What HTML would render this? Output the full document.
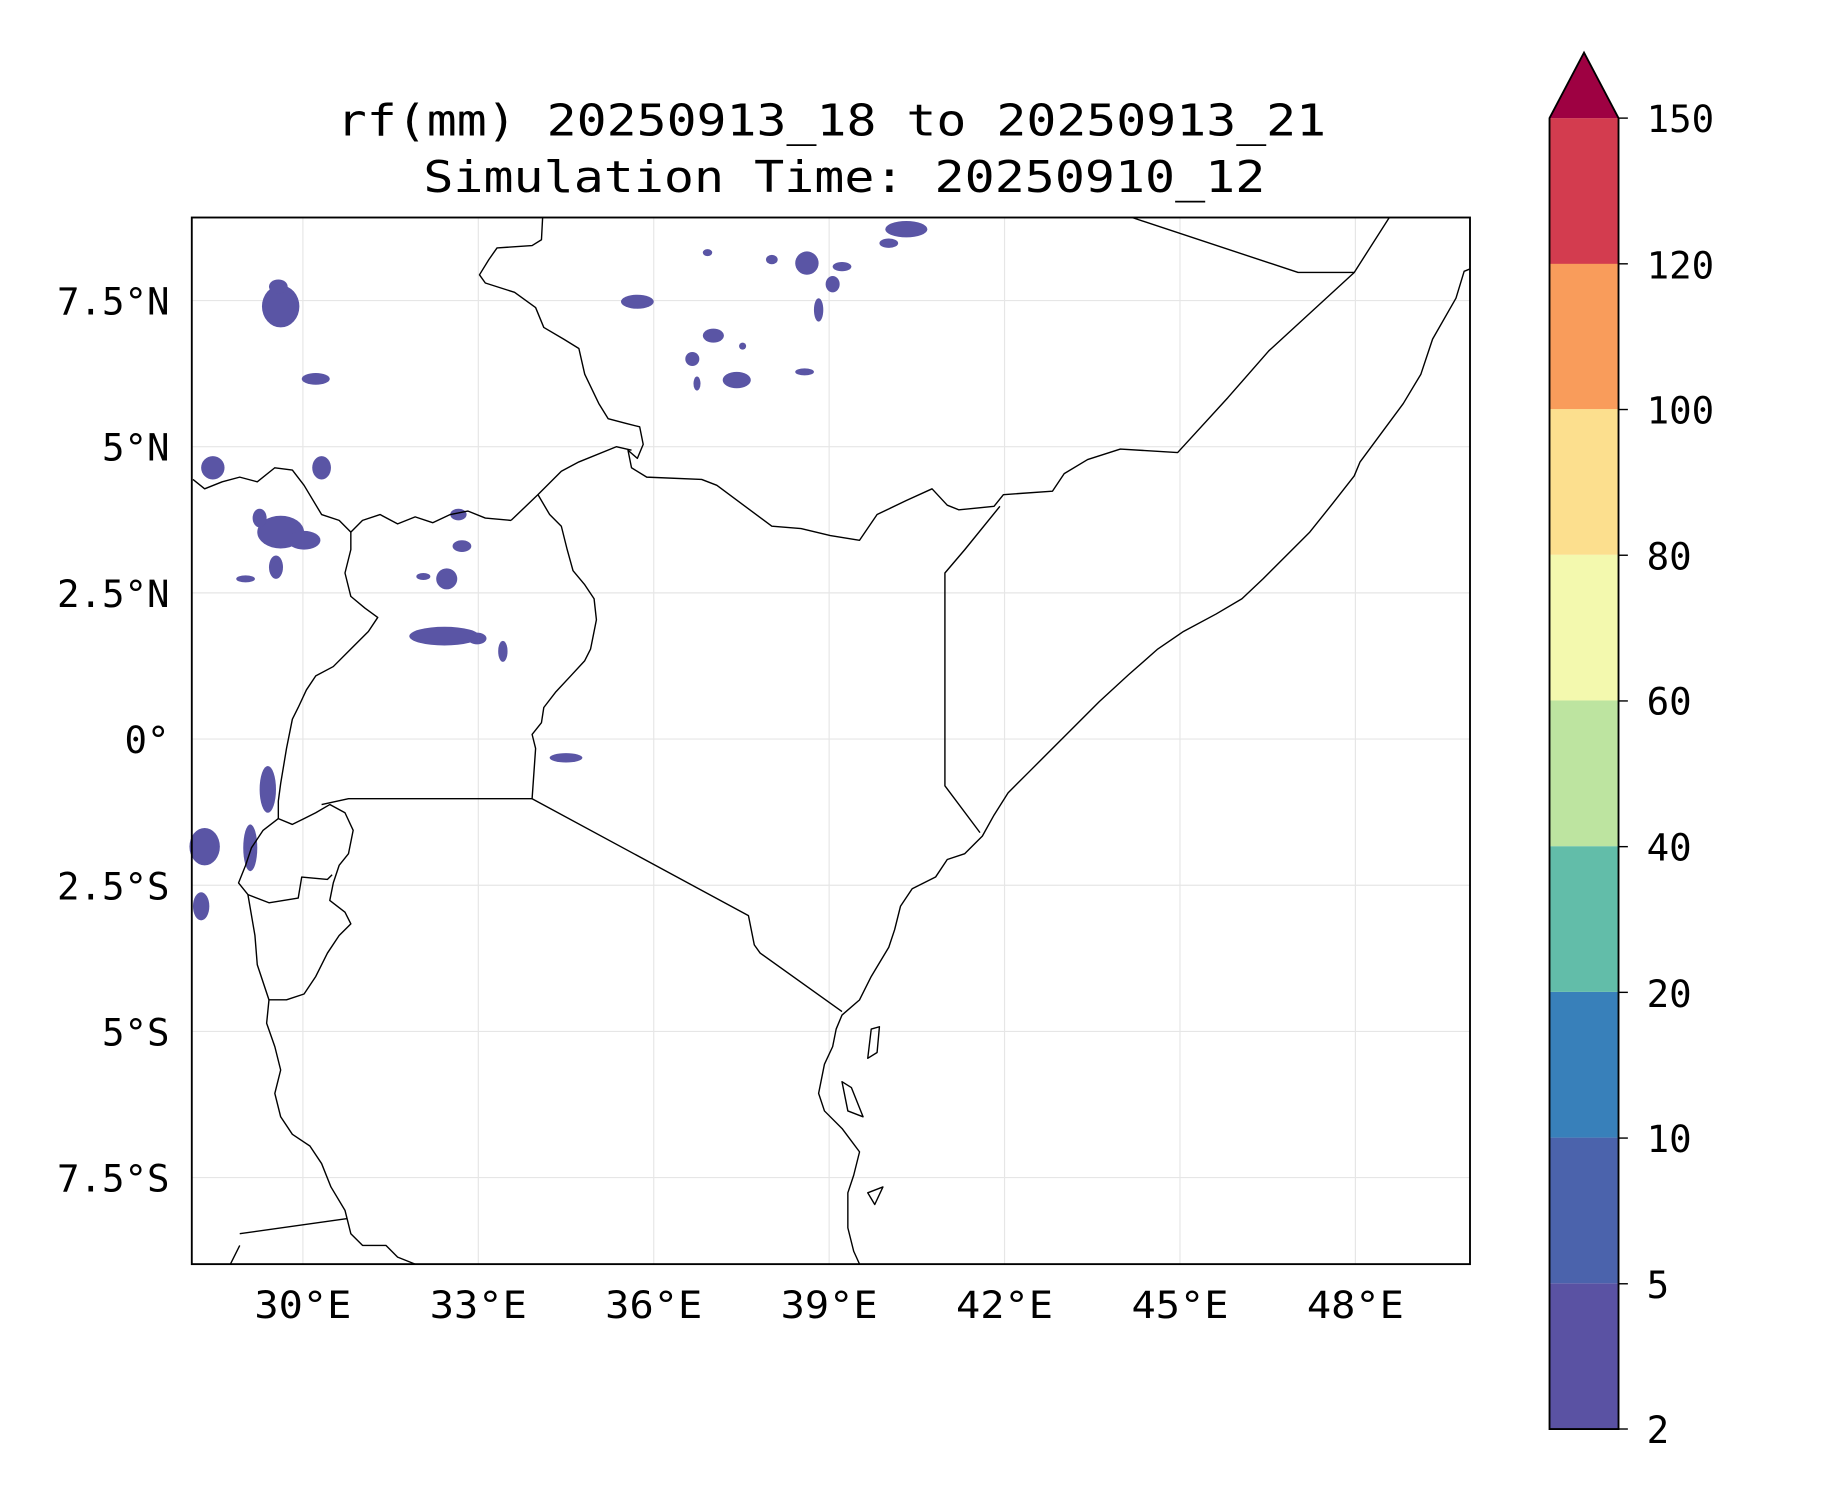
<!DOCTYPE html>
<html><head><meta charset="utf-8"><style>html,body{margin:0;padding:0;background:#fff}svg{display:block}</style></head><body>
<svg width="1833" height="1500" viewBox="0 0 1567.4 1282.7" preserveAspectRatio="none" xmlns="http://www.w3.org/2000/svg" font-family="'DejaVu Sans Mono','Liberation Mono',monospace">
<rect width="1570" height="1290" fill="#fff"/>
<text x="711" y="116" font-size="37" text-anchor="middle" textLength="846" lengthAdjust="spacingAndGlyphs">rf(mm) 20250913_18 to 20250913_21</text>
<text x="722" y="164" font-size="37" text-anchor="middle" textLength="720" lengthAdjust="spacingAndGlyphs">Simulation Time: 20250910_12</text>
<g stroke="#e6e6e6" stroke-width="1">
<line x1="259" y1="186" x2="259" y2="1081"/><line x1="409" y1="186" x2="409" y2="1081"/><line x1="559" y1="186" x2="559" y2="1081"/><line x1="709" y1="186" x2="709" y2="1081"/><line x1="859" y1="186" x2="859" y2="1081"/><line x1="1009" y1="186" x2="1009" y2="1081"/><line x1="1159" y1="186" x2="1159" y2="1081"/>
<line x1="164" y1="257" x2="1257" y2="257"/><line x1="164" y1="382" x2="1257" y2="382"/><line x1="164" y1="507" x2="1257" y2="507"/><line x1="164" y1="632" x2="1257" y2="632"/><line x1="164" y1="757" x2="1257" y2="757"/><line x1="164" y1="882" x2="1257" y2="882"/><line x1="164" y1="1007" x2="1257" y2="1007"/>
</g>
<g fill="#5a55a5">
<ellipse cx="240" cy="262" rx="16" ry="18"/><ellipse cx="238" cy="245" rx="8" ry="6"/><ellipse cx="270" cy="324" rx="12" ry="5"/><ellipse cx="275" cy="400" rx="8" ry="10"/>
<ellipse cx="182" cy="400" rx="10" ry="10"/><ellipse cx="240" cy="455" rx="20" ry="14"/><ellipse cx="260" cy="462" rx="14" ry="8"/><ellipse cx="222" cy="443" rx="6" ry="8"/><ellipse cx="236" cy="485" rx="6" ry="10"/><ellipse cx="210" cy="495" rx="8" ry="3"/>
<ellipse cx="392" cy="440" rx="7" ry="5"/><ellipse cx="395" cy="467" rx="8" ry="5"/><ellipse cx="382" cy="495" rx="9" ry="9"/><ellipse cx="362" cy="493" rx="6" ry="3"/>
<ellipse cx="380" cy="544" rx="30" ry="8"/><ellipse cx="408" cy="546" rx="8" ry="5"/><ellipse cx="430" cy="557" rx="4" ry="9"/>
<ellipse cx="484" cy="648" rx="14" ry="4"/>
<ellipse cx="229" cy="675" rx="7" ry="20"/><ellipse cx="214" cy="725" rx="6" ry="20"/><ellipse cx="175" cy="724" rx="13" ry="16"/><ellipse cx="172" cy="775" rx="7" ry="12"/>
<ellipse cx="545" cy="258" rx="14" ry="6"/><ellipse cx="610" cy="287" rx="9" ry="6"/><ellipse cx="592" cy="307" rx="6" ry="6"/><ellipse cx="630" cy="325" rx="12" ry="7"/><ellipse cx="596" cy="328" rx="3" ry="6"/>
<ellipse cx="690" cy="225" rx="10" ry="10"/><ellipse cx="712" cy="243" rx="6" ry="7"/><ellipse cx="700" cy="265" rx="4" ry="10"/><ellipse cx="720" cy="228" rx="8" ry="4"/>
<ellipse cx="775" cy="196" rx="18" ry="7"/><ellipse cx="760" cy="208" rx="8" ry="4"/><ellipse cx="660" cy="222" rx="5" ry="4"/><ellipse cx="605" cy="216" rx="4" ry="3"/>
<ellipse cx="688" cy="318" rx="8" ry="3"/><ellipse cx="635" cy="296" rx="3" ry="3"/>
</g>
<g fill="none" stroke="#000" stroke-width="1.2" stroke-linejoin="round">
<polyline points="464,186 463,205 455,210 425,212 418,222 410,235 415,242 440,250 458,263 465,280 482,290 495,298 500,320 512,345 520,358 535,362 547,365 550,380 545,392 537,385 540,400 553,408 600,410 613,415 660,450 685,452 710,458 735,462 750,440 775,428 797,418 810,432 820,436 850,433 858,423 900,420 910,405 930,393 958,384 1007,387 1050,340 1085,300 1158,233 1188,186"/>
<polyline points="968,186 1110,233 1158,233"/>
<polyline points="1257,230 1252,232 1245,255 1225,290 1215,320 1200,345 1180,372 1163,395 1158,407 1140,430 1120,455 1100,475 1080,495 1062,512 1040,525 1012,540 990,555 965,577 940,600 915,625 895,645 880,660 862,678 850,697 840,715 825,730 810,735 800,750 780,760 770,775 765,795 760,810 745,835 735,855 720,868 715,880 712,895 705,910 700,935 705,950 720,965 735,985 730,1005 725,1020 725,1050 730,1070 735,1081"/>
<polyline points="855,433 825,470 808,490 808,672 838,712"/>
<polyline points="437,445 460,423 480,403 495,395 527,382 540,385"/>
<polyline points="460,423 470,440 480,450 485,470 490,488 500,500 508,512 510,530 505,555 500,565 488,578 475,592 465,605 463,618 455,628 458,640 455,683 640,783 645,808 650,815 720,865"/>
<polyline points="437,445 415,443 400,437 385,440 370,447 355,442 340,448 325,440 310,445 300,455 290,445 275,440 260,415 250,402 235,400 220,412 205,408 190,412 175,418 165,410"/>
<polyline points="300,455 300,470 295,490 300,510 312,520 323,528 315,540 300,555 285,570 270,578 262,590 255,605 250,615 245,640 240,670 238,685 238,700"/>
<polyline points="275,688 298,683 455,683"/>
<polyline points="238,700 250,705 260,700 270,695 282,688 295,695 302,710 298,730 290,740 285,755 282,770 295,780 300,790 290,800 280,815 270,835 260,850 245,855 230,855"/>
<polyline points="238,700 225,710 215,725 210,740 204,755 212,765 230,772 255,768 258,750 280,752 284,748"/>
<polyline points="212,765 218,800 220,825 230,855 228,875 235,895 240,915 235,935 240,955 250,970 265,980 275,995 283,1015 295,1035 300,1055 310,1065 330,1065 340,1075 355,1081"/>
<polyline points="205,1055 297,1042"/>
<polyline points="205,1065 197,1081"/>
<path d="M745,880 L752,878 L750,900 L742,905 Z M720,925 L728,930 L738,955 L725,950 Z M742,1020 L755,1015 L748,1030 Z"/>
</g>
<rect x="164" y="186" width="1093" height="895" fill="none" stroke="#000" stroke-width="1.6"/>
<g font-size="32" text-anchor="middle">
<text x="259" y="1127" textLength="83" lengthAdjust="spacingAndGlyphs">30°E</text><text x="409" y="1127" textLength="83" lengthAdjust="spacingAndGlyphs">33°E</text><text x="559" y="1127" textLength="83" lengthAdjust="spacingAndGlyphs">36°E</text><text x="709" y="1127" textLength="83" lengthAdjust="spacingAndGlyphs">39°E</text><text x="859" y="1127" textLength="83" lengthAdjust="spacingAndGlyphs">42°E</text><text x="1009" y="1127" textLength="83" lengthAdjust="spacingAndGlyphs">45°E</text><text x="1159" y="1127" textLength="83" lengthAdjust="spacingAndGlyphs">48°E</text>
</g>
<g font-size="32" text-anchor="end">
<text x="145" y="269">7.5°N</text><text x="145" y="394">5°N</text><text x="145" y="519">2.5°N</text><text x="145" y="644">0°</text><text x="145" y="769">2.5°S</text><text x="145" y="894">5°S</text><text x="145" y="1019">7.5°S</text>
</g>
<g>
<rect x="1325" y="1097.4" width="59" height="124.6" fill="#5a52a3"/>
<rect x="1325" y="972.8" width="59" height="124.6" fill="#4b63ac"/>
<rect x="1325" y="848.2" width="59" height="124.6" fill="#3880ba"/>
<rect x="1325" y="723.6" width="59" height="124.6" fill="#62bda9"/>
<rect x="1325" y="599" width="59" height="124.6" fill="#bde4a0"/>
<rect x="1325" y="474.4" width="59" height="124.6" fill="#f3f9ae"/>
<rect x="1325" y="349.8" width="59" height="124.6" fill="#fcdf8e"/>
<rect x="1325" y="225.2" width="59" height="124.6" fill="#f99c5b"/>
<rect x="1325" y="101" width="59" height="124.6" fill="#d33c4f"/>
<polygon points="1325,101 1354.5,45 1384,101" fill="#9e0142"/>
<polygon points="1325,101 1354.5,45 1384,101 1384,1222 1325,1222" fill="none" stroke="#000" stroke-width="1.6"/>
</g>
<g stroke="#000" stroke-width="1.2">
<line x1="1384" y1="101" x2="1392" y2="101"/><line x1="1384" y1="225.6" x2="1392" y2="225.6"/><line x1="1384" y1="350.2" x2="1392" y2="350.2"/><line x1="1384" y1="474.8" x2="1392" y2="474.8"/><line x1="1384" y1="599.4" x2="1392" y2="599.4"/><line x1="1384" y1="724" x2="1392" y2="724"/><line x1="1384" y1="848.6" x2="1392" y2="848.6"/><line x1="1384" y1="973.2" x2="1392" y2="973.2"/><line x1="1384" y1="1097.8" x2="1392" y2="1097.8"/><line x1="1384" y1="1222" x2="1392" y2="1222"/>
</g>
<g font-size="32">
<text x="1408" y="113">150</text><text x="1408" y="238">120</text><text x="1408" y="362">100</text><text x="1408" y="487">80</text><text x="1408" y="611">60</text><text x="1408" y="736">40</text><text x="1408" y="861">20</text><text x="1408" y="985">10</text><text x="1408" y="1110">5</text><text x="1408" y="1234">2</text>
</g>
</svg>
</body></html>
